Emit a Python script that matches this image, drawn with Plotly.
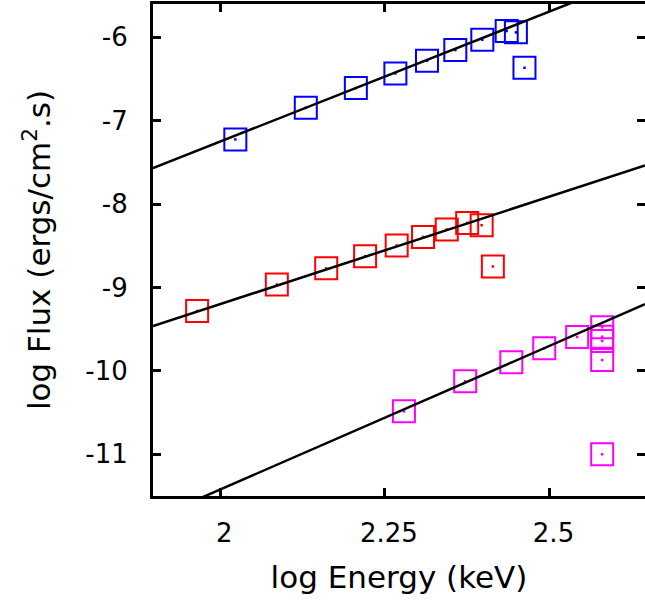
import plotly.graph_objects as go

# ---- data ----
blue_x = [2.023, 2.130, 2.206, 2.266, 2.314, 2.357, 2.398, 2.435, 2.449, 2.462]
blue_y = [-7.224, -6.845, -6.608, -6.432, -6.281, -6.152, -6.029, -5.924, -5.940, -6.365]

red_x = [1.965, 2.086, 2.161, 2.220, 2.268, 2.308, 2.344, 2.375, 2.397, 2.414]
red_y = [-9.281, -8.964, -8.769, -8.624, -8.496, -8.393, -8.304, -8.225, -8.253, -8.748]

mag_x = [2.279, 2.372, 2.442, 2.492, 2.542, 2.580, 2.580, 2.580, 2.580, 2.580]
mag_y = [-10.485, -10.124, -9.897, -9.728, -9.593, -9.477, -9.590, -9.640, -9.869, -11.000]

# linear fits: log F = intercept + slope * log E
fit_slopes = [3.12, 2.58, 3.444]
fit_intercepts = [-13.49, -14.359, -18.31]

x_range = [1.898, 2.645]
y_range = [-11.5, -5.6]
x_ticks = [2, 2.25, 2.5]
x_ticktext = ["2", "2.25", "2.5"]
y_ticks = [-11, -10, -9, -8, -7, -6]
y_ticktext = ["-11", "-10", "-9", "-8", "-7", "-6"]

colors = ["#0000ff", "#ff0000", "#ff00ff"]

fig = go.Figure()
for xs, ys, c in [(blue_x, blue_y, colors[0]), (red_x, red_y, colors[1]), (mag_x, mag_y, colors[2])]:
    fig.add_trace(go.Scatter(x=xs, y=ys, mode="markers",
                             marker=dict(symbol="square-open", size=22, color=c, line=dict(width=2, color=c)),
                             showlegend=False, hoverinfo="skip"))
    fig.add_trace(go.Scatter(x=xs, y=ys, mode="markers",
                             marker=dict(symbol="square", size=2.5, color=c, line=dict(width=0)),
                             showlegend=False, hoverinfo="skip"))

for a, b in zip(fit_intercepts, fit_slopes):
    fx = list(x_range)
    fy = [a + b * v for v in fx]
    fig.add_trace(go.Scatter(x=fx, y=fy, mode="lines", yaxis="y2",
                             line=dict(color="black", width=2.5),
                             showlegend=False, hoverinfo="skip"))

font_ticks = dict(family="DejaVu Sans", size=26, color="black")
font_title = dict(family="DejaVu Sans", size=31, color="black")

fig.update_layout(
    width=645, height=609,
    margin=dict(l=153, r=0, t=4, b=113, autoexpand=False),
    paper_bgcolor="white", plot_bgcolor="white",
    xaxis=dict(range=x_range, tickvals=x_ticks, ticktext=x_ticktext, automargin=False,
               ticks="inside", ticklen=8, tickwidth=3, tickcolor="black",
               showline=True, linewidth=3, linecolor="black", mirror="ticks",
               showgrid=False, zeroline=False, tickfont=font_ticks,
               ticklabelshift=4, ticklabelstandoff=12,
               title=dict(text="log Energy (keV)", font=font_title, standoff=20)),
    yaxis=dict(range=y_range, tickvals=y_ticks, ticktext=y_ticktext, automargin=False,
               ticks="inside", ticklen=8, tickwidth=3, tickcolor="black",
               showline=True, linewidth=3, linecolor="black", mirror=False,
               showgrid=False, zeroline=False, tickfont=font_ticks,
               ticklabelstandoff=17,
               title=dict(text="log Flux (ergs/cm<sup>2</sup>.s)", font=font_title, standoff=26)),
    yaxis2=dict(range=y_range, overlaying="y", side="right", tickvals=y_ticks, automargin=False,
                ticks="inside", ticklen=8, tickwidth=3, tickcolor="black",
                showticklabels=False, showline=False, showgrid=False, zeroline=False),
)

fig.write_html("out.html", config={"displayModeBar": False},
               post_script="document.body.style.margin='0';document.body.style.overflow='hidden';")
